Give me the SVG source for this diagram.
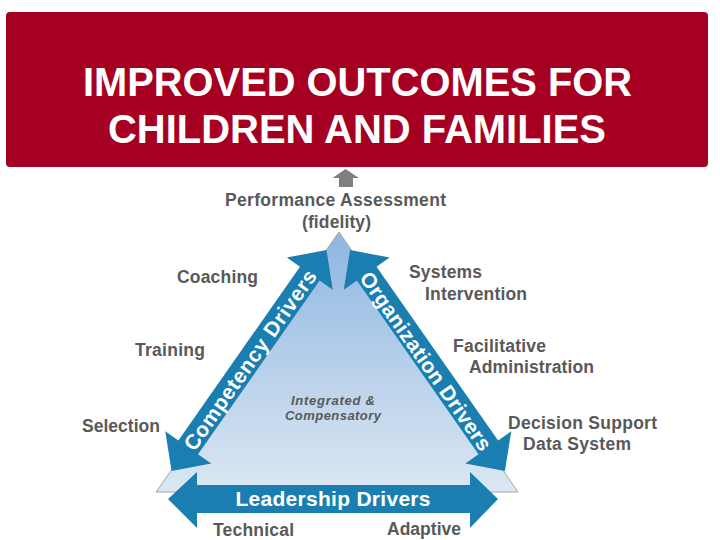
<svg xmlns="http://www.w3.org/2000/svg" width="720" height="540" viewBox="0 0 720 540">
  <defs>
    <linearGradient id="triGrad" x1="0" y1="0" x2="0" y2="1">
      <stop offset="0" stop-color="#8db6e0"/>
      <stop offset="0.5" stop-color="#b6cfea"/>
      <stop offset="1" stop-color="#dbe7f3"/>
    </linearGradient>
    <style>
      .lbl { font-family: "Liberation Sans", Arial, sans-serif; font-weight: bold; font-size: 17.5px; fill: #595959; }
      .title { font-family: "Liberation Sans", Arial, sans-serif; font-weight: bold; font-size: 40px; fill: #ffffff; text-anchor: middle; }
      .drv { font-family: "Liberation Sans", Arial, sans-serif; font-weight: bold; font-size: 21px; fill: #ffffff; text-anchor: middle; }
      .ital { font-family: "Liberation Sans", Arial, sans-serif; font-weight: bold; font-style: italic; font-size: 13px; fill: #595959; }
      .arrow { fill: #1a7fb0; }
    </style>
  </defs>
  <rect width="720" height="540" fill="#ffffff"/>

  <g id="outcomes">
    <rect x="6" y="12" width="702" height="155" rx="4" ry="4" fill="#a50021"/>
    <text class="title" x="357.5" y="96" textLength="549" lengthAdjust="spacingAndGlyphs">IMPROVED OUTCOMES FOR</text>
    <text class="title" x="357" y="143" textLength="498" lengthAdjust="spacingAndGlyphs">CHILDREN AND FAMILIES</text>
  </g>

  <g id="connectors">
    <polygon points="345.5,169 359,178 353,178 353,187 339,187 339,178 332.5,178" fill="#7f7f7f"/>
  </g>

  <g id="performance">
    <text class="lbl" x="225" y="206" textLength="221">Performance Assessment</text>
    <text class="lbl" x="302" y="228" textLength="69">(fidelity)</text>
  </g>

  <g id="triangle">
    <polygon points="339,232 518,492 156,492" fill="url(#triGrad)" stroke="#a6a6a6" stroke-width="1"/>
  </g>

  <g id="competency-drivers">
    <path class="arrow" transform="translate(249,360.5) rotate(-55)" d="M -135 0 L -106 -28 L -106 -12 L 106 -12 L 106 -28 L 135 0 L 106 28 L 106 12 L -106 12 L -106 28 Z"/>
    <text class="drv" transform="translate(250,360) rotate(-55)" y="7.5" textLength="215">Competency Drivers</text>
  </g>

  <g id="organization-drivers">
    <path class="arrow" transform="translate(427.5,360.5) rotate(55)" d="M -135 0 L -106 -28 L -106 -12 L 106 -12 L 106 -28 L 135 0 L 106 28 L 106 12 L -106 12 L -106 28 Z"/>
    <text class="drv" transform="translate(426,361) rotate(55)" y="7.5" textLength="213">Organization Drivers</text>
  </g>

  <g id="leadership-drivers">
    <path class="arrow" d="M 168 499 L 197 472 L 197 485 L 470 485 L 470 472 L 498 499 L 470 528 L 470 513 L 197 513 L 197 528 Z"/>
    <text class="drv" x="333" y="506" font-size="19" textLength="195" lengthAdjust="spacing">Leadership Drivers</text>
  </g>

  <g id="integrated">
    <text class="ital" x="291" y="405" textLength="84">Integrated  &amp;</text>
    <text class="ital" x="285" y="420" textLength="96">Compensatory</text>
  </g>

  <g id="coaching"><text class="lbl" x="177" y="283" textLength="81">Coaching</text></g>
  <g id="training"><text class="lbl" x="135" y="356" textLength="70">Training</text></g>
  <g id="selection"><text class="lbl" x="82" y="432" textLength="78">Selection</text></g>

  <g id="systems-intervention">
    <text class="lbl" x="409" y="278" textLength="73">Systems</text>
    <text class="lbl" x="425" y="300" textLength="102">Intervention</text>
  </g>
  <g id="facilitative-administration">
    <text class="lbl" x="453" y="352" textLength="93">Facilitative</text>
    <text class="lbl" x="469" y="373" textLength="125">Administration</text>
  </g>
  <g id="decision-support">
    <text class="lbl" x="508" y="429" textLength="149">Decision Support</text>
    <text class="lbl" x="523" y="450" textLength="108">Data System</text>
  </g>

  <g id="technical"><text class="lbl" x="213" y="536" textLength="81">Technical</text></g>
  <g id="adaptive"><text class="lbl" x="387" y="535" textLength="74">Adaptive</text></g>
</svg>
